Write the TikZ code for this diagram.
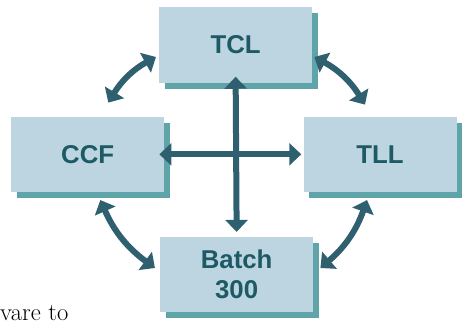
\documentclass[tikz,border=0pt]{standalone}
\usepackage{fontspec}
\setmainfont{Liberation Sans}
\usetikzlibrary{arrows.meta,shadows}

\definecolor{boxfill}{HTML}{BCD5E0}
\definecolor{boxtext}{HTML}{1E5A66}
\definecolor{boxshadow}{HTML}{4E9AA0}
\definecolor{linkcol}{HTML}{2F6070}

\tikzset{
	unit/.style={rectangle, fill=boxfill, minimum width=4.59cm, minimum height=2.25cm,
		text=boxtext, font=\fontsize{22}{25.6}\selectfont\bfseries, align=center,
		drop shadow={shadow xshift=0.16cm, shadow yshift=-0.18cm, fill=boxshadow, opacity=0.9}},
	link/.style={draw=linkcol, line width=0.18cm, {Triangle[length=0.36cm,width=0.66cm]}-{Triangle[length=0.36cm,width=0.66cm]}}
}

\begin{document}
\begin{tikzpicture}
		\useasboundingbox (0,0) rectangle (13.86,9.72);
		
		% the four units
		\node[unit] (tcl) at (7.07,8.37){TCL};
		\node[unit] (ccf) at (2.63,5.09){CCF};
		\node[unit] (tll) at (11.40,5.09){TLL};
		\node[unit] (batch) at (7.10,1.48){Batch\\300};
		
		% straight links through the middle
		\draw[link, shorten <=-0.18cm, shorten >=0.15cm] (tcl.south) -- (batch.north);
		\draw[link, shorten <=-0.15cm, shorten >=0.06cm] (ccf.east) -- (tll.west);
		
		% curved links round the outside
		\draw[link] ([xshift=-0.09cm,yshift=-0.36cm]tcl.west) to[bend right=15] ([xshift=0.62cm,yshift=0.42cm]ccf.north);
		\draw[link] ([xshift=0.06cm,yshift=-0.36cm]tcl.east) to[bend left=15] ([xshift=-0.45cm,yshift=0.36cm]tll.north);
		\draw[link] ([xshift=0.38cm,yshift=-0.24cm]ccf.south) to[bend right=15] ([xshift=-0.15cm,yshift=0.2cm]batch.west);
		\draw[link] ([xshift=-0.39cm,yshift=-0.24cm]tll.south) to[bend left=15] ([xshift=0.21cm,yshift=0.2cm]batch.east);
		
		% text of the page below
		\node[anchor=base west, inner sep=0, font=\fontsize{21}{24}\fontspec{Latin Modern Roman}] (page) at (0,0.1) {vare to};
	\end{tikzpicture}
\end{document}
